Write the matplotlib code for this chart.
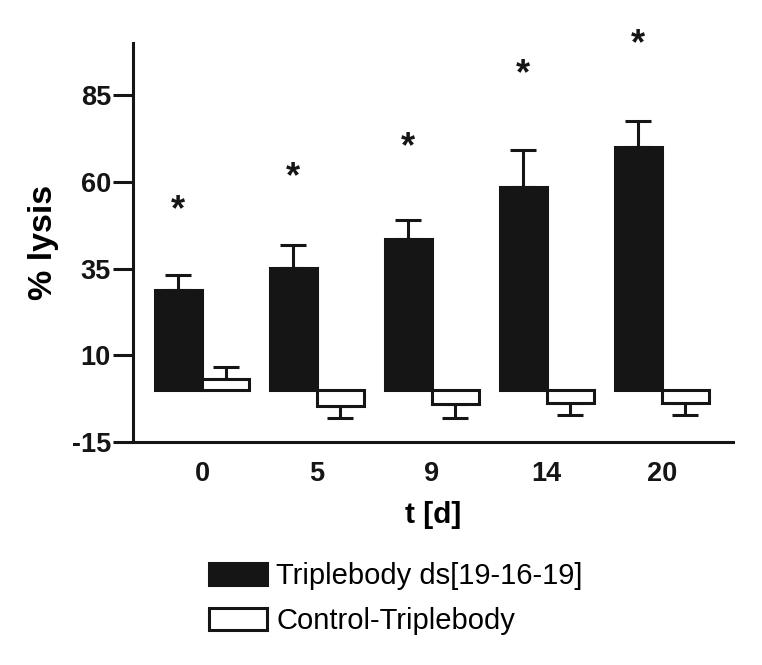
import matplotlib
matplotlib.use("Agg")
import matplotlib.pyplot as plt
import numpy as np

categories = ["0", "5", "9", "14", "20"]
triple_vals = [28.7, 35.2, 43.5, 58.6, 69.9]
triple_err = [4.5, 6.7, 5.5, 10.6, 7.6]
control_vals = [3.3, -4.6, -4.1, -3.7, -3.7]
control_err = [3.2, 3.4, 3.9, 3.5, 3.5]
star_y = [54.0, 63.6, 72.3, 93.3, 102.0]
yticks = [-15, 10, 35, 60, 85]
series_names = ["Triplebody ds[19-16-19]", "Control-Triplebody"]

plt.rcParams['font.family'] = ['Liberation Sans', 'DejaVu Sans']
plt.rcParams['axes.unicode_minus'] = False

fig = plt.figure(figsize=(7.62, 6.65), dpi=100)
ax = fig.add_axes([133/762, 1-442/665, 600/762, 399/665])

x = np.arange(len(categories))
w = 0.41
lw = 2.2
black = "#151515"

b1 = ax.bar(x - w/2, triple_vals, w, color=black, edgecolor=black, linewidth=lw,
            label=series_names[0], zorder=2)
b2 = ax.bar(x + w/2, control_vals, w, color="white", edgecolor=black, linewidth=lw,
            label=series_names[1], zorder=2)

# error bars: one-sided, away from zero
ax.errorbar(x - w/2, triple_vals, yerr=[np.zeros(len(x)), triple_err], fmt="none",
            ecolor=black, elinewidth=lw, capsize=9.4, capthick=lw, zorder=1)
c = np.array(control_vals)
ce = np.array(control_err)
low = np.where(c < 0, ce, 0)
up = np.where(c >= 0, ce, 0)
ax.errorbar(x + w/2, control_vals, yerr=[low, up], fmt="none",
            ecolor=black, elinewidth=lw, capsize=9.4, capthick=lw, zorder=1)

for xi, sy in zip(x - w/2, star_y):
    ax.annotate("*", (xi, sy), xytext=(0, -13), textcoords="offset points",
                ha="center", va="baseline", fontsize=26, fontweight="bold",
                color=black, annotation_clip=False)

ax.set_xlim(-0.6, 4.62)
ax.set_ylim(-15, 100)
ax.set_yticks(yticks)
ax.set_xticks(x)
ax.set_xticklabels(categories)

for s in ["top", "right"]:
    ax.spines[s].set_visible(False)
for s in ["left", "bottom"]:
    ax.spines[s].set_linewidth(lw)
    ax.spines[s].set_color(black)

ax.tick_params(axis="y", length=14.4, width=lw, pad=1.5, labelsize=19.5, colors=black)
ax.tick_params(axis="x", length=0, pad=13.5, labelsize=19.5, colors=black)
for lab in ax.get_xticklabels() + ax.get_yticklabels():
    lab.set_fontweight("bold")

ax.set_ylabel("% lysis", fontsize=24.5, fontweight="bold", labelpad=9)
ax.set_xlabel("t [d]", fontsize=21.5, fontweight="bold", labelpad=10)

fig.legend(handles=[b1, b2], labels=series_names, loc="upper left",
           bbox_to_anchor=(209/762, 1-562/665), frameon=False, fontsize=21,
           handlelength=2.0, handleheight=0.76, handletextpad=0.3,
           labelspacing=0.58, borderpad=0, borderaxespad=0)

fig.savefig("out.png", dpi=100)
